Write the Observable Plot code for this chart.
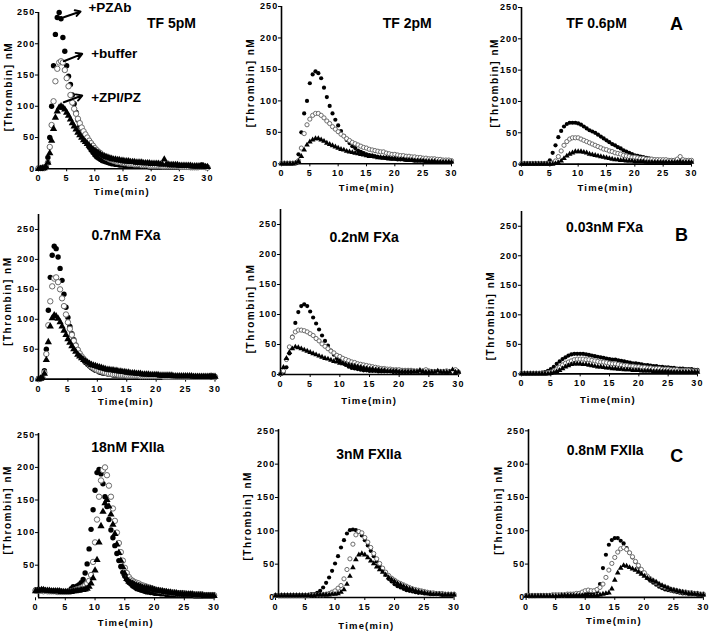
<!DOCTYPE html>
<html><head><meta charset="utf-8">
<script src="https://cdn.jsdelivr.net/npm/d3@7"></script>
<script src="https://cdn.jsdelivr.net/npm/@observablehq/plot@0.6"></script>
<style>
html,body{margin:0;padding:0;background:#fff;}
#chart{position:relative;width:713px;height:632px;overflow:hidden;background:#fff;}
#chart svg{position:absolute;background:none !important;overflow:visible;}
#chart svg text{font-family:"Liberation Sans",Arial,sans-serif;font-weight:bold;}
#warn{position:absolute;left:0;top:0;color:red;font:12px sans-serif;}
</style>
</head><body>
<div id="chart"></div>
<script>
// ---------- shared grids ----------
const T_20S = [0,0.33,0.67,1,1.33,1.67,2,2.33,2.67,3,3.33,3.67,4,4.33,4.67,5,5.33,5.67,6,6.33,6.67,7,7.33,7.67,8,8.33,8.67,9,9.33,9.67,
10,10.33,10.67,11,11.33,11.67,12,12.33,12.67,13,13.33,13.67,14,14.33,14.67,15,15.33,15.67,16,16.33,16.67,17,17.33,17.67,18,18.33,18.67,19,19.33,19.67,
20,20.33,20.67,21,21.33,21.67,22,22.33,22.67,23,23.33,23.67,24,24.33,24.67,25,25.33,25.67,26,26.33,26.67,27,27.33,27.67,28,28.33,28.67,29,29.33,29.67,
30];
const T_30S = [0,0.5,1,1.5,2,2.5,3,3.5,4,4.5,5,5.5,6,6.5,7,7.5,8,8.5,9,9.5,
10,10.5,11,11.5,12,12.5,13,13.5,14,14.5,15,15.5,16,16.5,17,17.5,18,18.5,19,19.5,
20,20.5,21,21.5,22,22.5,23,23.5,24,24.5,25,25.5,26,26.5,27,27.5,28,28.5,29,29.5,
30];
const X_TICKS = [0,5,10,15,20,25,30];
const Y_TICKS = [0,50,100,150,200,250];
const Y_TICKS_NO0 = [50,100,150,200,250];
const SERIES = ["+PZAb","+buffer","+ZPI/PZ"];
const TITLES = ["TF 5pM","TF 2pM","TF 0.6pM","0.7nM FXa","0.2nM FXa","0.03nM FXa","18nM FXIIa","3nM FXIIa","0.8nM FXIIa"];
const ROW_LETTERS = ["A","B","C"];
const Y_LABEL = "[Thrombin] nM";
const X_LABEL = "Time(min)";

// ---------- TF 5pM (20 s grid) ----------
const TF5_PZAB = [1,1,1, 2,4,18, 50,100,165, 215,242,250, 240,210,188, 165,148,135, 118,104,90, 78,68,60, 53,46,40, 35,30,26,
22,19,17, 15,13,12, 11,10,9, 8,8,7, 7,6,6, 6,5,5, 5,5,5, 4,4,4, 4,4,4, 4,4,3,
3,3,3, 3,3,3, 3,3,3, 3,3,3, 3,3,3, 3,3,3, 3,3,3, 2,2,2, 2,2,3, 6,3,2,
2];
const TF5_BUF = [1,1,1, 1,3,10, 35,70,108, 140,160,170, 172,170,158, 145,132,118, 106,96,88, 80,73,66, 60,55,50, 45,41,37,
33,30,27, 25,22,20, 18,17,15, 14,13,12, 11,11,10, 10,9,9, 8,8,8, 7,7,7, 7,6,6, 6,6,5,
5,5,5, 5,5,5, 4,4,4, 4,4,4, 4,4,4, 4,3,3, 3,3,3, 3,3,3, 3,3,3, 3,3,3,
2];
const TF5_ZPI = [0,0,1, 1,3,10, 25,45,64, 82,92,98, 100,98,95, 90,85,79, 73,68,63, 58,54,50, 46,43,40, 37,34,31,
29,27,25, 23,21,20, 19,18,17, 16,15,15, 14,14,13, 13,12,12, 12,11,11, 11,10,10, 10,10,9, 9,9,9,
8,8,8, 8,8,7, 7,15,7, 7,6,6, 6,6,6, 5,5,5, 5,5,5, 5,4,4, 4,4,4, 4,4,3,
3];

// ---------- TF 2pM (30 s grid) ----------
const TF2_PZAB = [1,1, 1,1, 1,2, 15,50, 80,100, 128,142, 147,144, 136,121, 106,92, 80,70,
61,52, 44,38, 33,28, 25,21, 19,17, 15,14, 13,12, 11,10, 10,9, 9,8,
8,7, 7,7, 6,6, 6,5, 5,5, 5,4, 4,4, 4,3, 3,3, 3,3,
3];
const TF2_BUF = [1,1, 1,1, 1,1, 5,25, 48,62, 71,77, 80,80, 77,73, 68,64, 59,55,
51,47, 44,40, 37,34, 32,30, 28,26, 25,23, 22,21, 20,19, 19,17, 16,15,
15,14, 13,13, 12,12, 11,11, 10,10, 9,9, 8,8, 8,7, 7,6, 6,6,
5];
const TF2_ZPI = [0,0, 0,0, 0,1, 4,12, 22,30, 35,38, 40,40, 38,36, 33,31, 29,27,
25,23, 22,20, 19,18, 17,16, 15,14, 13,12, 12,11, 10,10, 9,9, 8,8,
8,7, 7,7, 6,6, 6,5, 5,5, 5,4, 4,4, 4,3, 3,3, 3,3,
3];

// ---------- TF 0.6pM ----------
const TF06_PZAB = [1,1, 1,1, 1,1, 1,1, 1,2, 6,18, 30,43, 53,60, 64,66, 66,66,
65,63, 60,57, 54,52, 50,47, 44,41, 38,35, 32,30, 27,25, 22,20, 18,16,
14,13, 12,11, 10,9, 8,7, 7,6, 6,6, 5,5, 5,5, 5,4, 4,4,
4];
const TF06_BUF = [1,1, 1,1, 1,1, 1,1, 1,1, 1,2, 5,12, 21,30, 36,40, 42,42,
42,40, 38,36, 34,32, 30,28, 26,24, 23,21, 20,18, 17,16, 14,13, 12,11,
11,10, 9,9, 8,8, 8,7, 7,7, 7,7, 6,6, 6,8, 12,7, 6,6,
6];
const TF06_ZPI = [0,0, 0,0, 0,0, 0,0, 0,0, 0,0, 1,2, 5,9, 13,16, 18,20,
20,20, 19,18, 16,15, 14,13, 12,11, 10,9, 8,7, 7,6, 6,5, 5,5,
4,4, 4,4, 3,3, 3,3, 3,3, 3,3, 3,3, 3,3, 3,3, 3,3,
3];

// ---------- 0.7nM FXa (20 s grid) ----------
const FXA07_PZAB = [1,1,3, 14,50,115, 170,207,222, 218,204,185, 165,142,120, 103,88,76, 66,57,49, 42,37,32, 28,25,22, 19,17,15,
14,12,11, 10,10,9, 8,8,7, 7,7,6, 6,6,6, 5,5,5, 5,5,5, 5,4,4, 4,4,4, 4,4,4,
4,4,4, 4,3,3, 3,3,3, 3,3,3, 3,3,3, 3,3,3, 3,3,3, 3,3,3, 3,3,3, 4,6,3,
3];
const FXA07_BUF = [0,1,2, 11,42,90, 130,155,168, 170,162,150, 135,122,108, 95,84,74, 64,56,49, 43,38,34, 30,27,24, 21,19,17,
15,14,13, 12,11,10, 9,9,8, 8,8,7, 7,7,7, 6,6,6, 6,6,6, 6,5,5, 5,5,5, 5,5,5,
5,5,5, 5,4,4, 4,4,4, 4,4,4, 4,4,4, 4,4,4, 4,4,4, 4,4,4, 4,4,4, 4,5,4,
4];
const FXA07_ZPI = [0,1,2, 9,32,62, 88,102,107, 105,101,95, 88,81,74, 67,61,55, 50,46,41, 38,35,32, 30,28,26, 24,23,22,
21,20,19, 18,17,16, 16,15,15, 14,14,13, 13,12,12, 11,11,10, 10,10,9, 9,9,8, 8,8,8, 7,7,7,
7,7,6, 6,6,6, 6,6,6, 5,5,5, 5,5,5, 5,5,5, 5,4,4, 4,4,4, 4,4,4, 4,4,4,
4];

// ---------- 0.2nM FXa ----------
const FXA02_PZAB = [1,3, 12,35, 63,86, 104,114, 117,114, 105,95, 85,75, 65,56, 48,40, 33,27,
23,19, 16,13, 11,10, 9,8, 7,7, 6,6, 6,5, 5,5, 5,5, 4,4,
4,4, 4,4, 4,4, 4,3, 3,3, 3,3, 3,3, 3,3, 3,3, 3,3,
3];
const FXA02_BUF = [1,6, 25,46, 62,71, 74,74, 73,71, 68,65, 60,56, 51,47, 43,39, 36,32,
30,27, 25,23, 21,20, 18,17, 16,15, 14,13, 12,11, 10,10, 9,9, 8,8,
8,7, 7,7, 7,6, 6,6, 6,8, 6,5, 5,5, 5,5, 6,5, 5,8,
4];
const FXA02_ZPI = [1,12, 27,37, 43,46, 45,43, 41,39, 37,35, 33,31, 29,27, 26,24, 22,21,
19,18, 17,16, 15,14, 13,12, 11,10, 9,9, 8,8, 7,7, 6,6, 6,6,
5,5, 5,5, 5,5, 5,7, 5,4, 4,4, 4,6, 4,4, 4,4, 8,4,
4];

// ---------- 0.03nM FXa ----------
const FXA003_PZAB = [1,1, 1,1, 1,1, 1,2, 3,5, 8,12, 17,21, 25,28, 31,33, 34,34,
34,34, 33,32, 31,30, 29,28, 27,26, 25,24, 24,23, 22,21, 20,19, 18,18,
17,16, 15,15, 14,13, 13,12, 12,11, 11,10, 10,9, 9,9, 8,8, 8,7,
7];
const FXA003_BUF = [1,1, 1,1, 1,1, 1,1, 1,2, 3,5, 8,11, 15,18, 20,22, 24,25,
25,25, 24,24, 23,22, 21,20, 20,19, 18,17, 17,16, 15,14, 14,13, 13,12,
12,11, 11,10, 10,9, 9,9, 8,8, 8,7, 7,7, 6,6, 6,6, 5,5,
5];
const FXA003_ZPI = [0,0, 0,0, 0,0, 0,0, 0,0, 1,2, 4,6, 9,12, 14,16, 17,17,
17,16, 16,15, 14,13, 12,12, 11,10, 10,9, 9,8, 8,7, 7,7, 6,6,
6,5, 5,5, 5,4, 4,4, 4,4, 4,3, 3,3, 3,3, 3,3, 3,3,
3];

// ---------- 18nM FXIIa (20 s grid) ----------
const FXIIA18_PZAB = [12,12,11, 12,12,11, 11,11,11, 10,10,10, 10,10,9, 9,9,10, 14,17,16, 18,20,23, 28,38,52, 75,105,135,
165,192,197, 190,175,155, 140,120,104, 92,80,68, 57,48,39, 33,28,24, 21,18,16, 14,13,12, 11,10,9, 9,8,8,
7,7,7, 6,6,6, 5,5,5, 5,5,4, 4,4,4, 4,4,4, 4,4,3, 3,3,3, 3,3,3, 3,3,3,
3];
const FXIIA18_BUF = [11,11,11, 11,10,11, 10,10,10, 10,10,9, 9,9,9, 9,9,9, 10,11,12, 13,14,15, 17,19,22, 26,35,55,
85,120,155, 180,196,200, 188,172,155, 137,118,100, 84,70,57, 46,38,32, 28,26,24, 23,22,20, 19,18,17, 16,15,14,
13,12,11, 11,10,10, 9,9,8, 8,8,7, 7,7,7, 7,6,6, 6,6,5, 5,5,5, 5,4,4, 4,4,4,
4];
const FXIIA18_ZPI = [10,11,11, 12,12,11, 11,11,10, 10,10,10, 10,9,9, 9,9,9, 9,10,10, 11,11,12, 12,13,14, 17,22,30,
42,58,85, 110,132,145, 150,140,128, 112,98,82, 69,57,47, 37,29,25, 23,22,20, 19,18,17, 16,15,15, 14,14,13,
12,11,11, 10,10,9, 9,8,8, 7,7,7, 6,6,6, 5,5,5, 5,5,4, 4,4,4, 4,3,3, 3,3,3,
3];

// ---------- 3nM FXIIa ----------
const FXIIA3_PZAB = [4,4, 4,4, 4,4, 4,4, 4,4, 4,4, 5,5, 7,10, 15,22, 30,40,
51,62, 75,86, 96,101, 102,101, 98,93, 86,78, 70,62, 54,47, 40,34, 28,24,
20,17, 15,13, 11,10, 9,8, 7,7, 6,6, 5,5, 5,5, 4,4, 4,4,
4];
const FXIIA3_BUF = [3,3, 3,3, 3,3, 3,3, 3,3, 3,3, 4,4, 4,4, 4,5, 6,8,
10,14, 18,28, 42,58, 80,94, 99,97, 90,83, 75,66, 58,51, 44,38, 33,29,
26,23, 21,19, 17,15, 13,12, 11,10, 9,8, 7,7, 6,6, 6,5, 5,5,
5];
const FXIIA3_ZPI = [3,3, 3,3, 3,3, 3,3, 3,3, 3,3, 3,3, 4,4, 4,4, 4,5,
5,6, 8,12, 20,32, 45,57, 64,66, 64,60, 55,51, 46,42, 38,34, 30,27,
24,21, 19,17, 15,13, 12,10, 9,8, 7,6, 6,5, 5,5, 4,4, 4,4,
4];

// ---------- 0.8nM FXIIa ----------
const FXIIA08_PZAB = [2,2, 2,2, 3,3, 3,3, 3,3, 4,4, 4,4, 4,5, 5,5, 6,6,
6,7, 7,8, 9,20, 44,64, 79,86, 89,89, 85,81, 74,67, 60,53, 46,40,
34,29, 25,22, 19,16, 14,12, 11,10, 9,8, 7,6, 6,5, 5,5, 4,4,
4];
const FXIIA08_BUF = [3,3, 3,3, 3,3, 3,3, 3,4, 4,4, 4,4, 5,5, 5,6, 6,8,
10,11, 10,10, 12,15, 20,30, 41,51, 60,68, 73,75, 72,67, 61,54, 48,42,
37,32, 28,25, 22,19, 17,15, 14,12, 11,10, 9,8, 8,7, 7,6, 6,5,
5];
const FXIIA08_ZPI = [2,2, 2,2, 2,2, 2,2, 2,2, 2,2, 3,3, 3,3, 3,3, 3,3,
3,3, 3,3, 3,4, 5,6, 7,13, 26,37, 44,48, 47,45, 43,41, 38,35,
32,29, 27,25, 23,20, 18,16, 14,12, 11,10, 9,8, 7,6, 6,5, 5,4,
4];

// ---------- layout (page pixel geometry of each panel) ----------
const PANELS = [
  {title: TITLES[0], time: T_20S, data: [TF5_PZAB, TF5_BUF, TF5_ZPI], r: 2.7,
   x0: 38, x30: 207, y0: 168.3, y250: 12, yMax: 250, axisAt: 0, yTicks: Y_TICKS,
   titleAt: [171, 22.6], yLabAt: [8, 86], xLabAt: [121.3, 191],
   notes: [["+PZAb", 88, 7], ["+buffer", 90.7, 53], ["+ZPI/PZ", 90.7, 96.7]],
   arrows: [[4.49, 242.5, 7.46, 251.6], [4.49, 172.1, 7.76, 183.9], [4.49, 106.5, 7.76, 117.2]]},
  {title: TITLES[1], time: T_30S, data: [TF2_PZAB, TF2_BUF, TF2_ZPI], r: 2.1,
   x0: 280.5, x30: 450.5, y0: 163.3, y250: 6, yMax: 250, axisAt: 0, yTicks: Y_TICKS,
   titleAt: [406.3, 23.4], yLabAt: [250, 82], xLabAt: [365.8, 187.7]},
  {title: TITLES[2], time: T_30S, data: [TF06_PZAB, TF06_BUF, TF06_ZPI], r: 2.1,
   x0: 521, x30: 691, y0: 163.3, y250: 6.7, yMax: 250, axisAt: 0, yTicks: Y_TICKS,
   titleAt: [596, 22.4], letter: ROW_LETTERS[0], letterAt: [676, 23], yLabAt: [494, 82], xLabAt: [605, 186.7]},
  {title: TITLES[3], time: T_20S, data: [FXA07_PZAB, FXA07_BUF, FXA07_ZPI], r: 2.7,
   x0: 37.5, x30: 214, y0: 379, y250: 229.3, yMax: 275, axisAt: 0, yTicks: Y_TICKS,
   titleAt: [125, 235.4], yLabAt: [7, 301], xLabAt: [125, 401.7]},
  {title: TITLES[4], time: T_30S, data: [FXA02_PZAB, FXA02_BUF, FXA02_ZPI], r: 2.1,
   x0: 280, x30: 458, y0: 374, y250: 224, yMax: 275, axisAt: 0, yTicks: Y_TICKS,
   titleAt: [363.7, 236.8], yLabAt: [250.7, 308], xLabAt: [368.7, 400]},
  {title: TITLES[5], time: T_30S, data: [FXA003_PZAB, FXA003_BUF, FXA003_ZPI], r: 2.1,
   x0: 521, x30: 697, y0: 373.3, y250: 225.7, yMax: 275, axisAt: 0, yTicks: Y_TICKS,
   titleAt: [604, 227.4], letter: ROW_LETTERS[1], letterAt: [681, 234.4], yLabAt: [490.7, 315], xLabAt: [607.5, 399.3]},
  {title: TITLES[6], time: T_20S, data: [FXIIA18_PZAB, FXIIA18_BUF, FXIIA18_ZPI], r: 2.7,
   x0: 34.7, x30: 213.3, y0: 597, y250: 434, yMax: 252, axisAt: 0.5, yTicks: Y_TICKS_NO0,
   titleAt: [127, 446.8], yLabAt: [7, 509], xLabAt: [125, 621.7]},
  {title: TITLES[7], time: T_30S, data: [FXIIA3_PZAB, FXIIA3_BUF, FXIIA3_ZPI], r: 2.1,
   x0: 274.7, x30: 453.3, y0: 596.7, y250: 430, yMax: 252, axisAt: 0.5, yTicks: Y_TICKS,
   titleAt: [368, 454.1], yLabAt: [247.3, 515], xLabAt: [365.5, 625]},
  {title: TITLES[8], time: T_30S, data: [FXIIA08_PZAB, FXIIA08_BUF, FXIIA08_ZPI], r: 2.1,
   x0: 526, x30: 703.3, y0: 597.3, y250: 430.7, yMax: 252, axisAt: 0.4, yTicks: Y_TICKS,
   titleAt: [605, 450.8], letter: ROW_LETTERS[2], letterAt: [676.7, 455.7], yLabAt: [499, 510], xLabAt: [613.8, 621]}
];

const FONT = '"Liberation Sans", Arial, sans-serif';
const chart = document.getElementById("chart");
const warnings = [];

function drawPanel(p) {
  const T = p.time;
  p.data.forEach((s, k) => { if (s.length !== T.length) warnings.push(p.title + " " + SERIES[k] + ": " + s.length + "/" + T.length); });
  const pxMin = (p.x30 - p.x0) / 30;
  const pxUnit = (p.y0 - p.y250) / 250;
  const yTopPx = p.y0 - p.yMax * pxUnit;
  const axisPx = p.x0 + p.axisAt * pxMin;
  const mL = 50, mR = 16, mT = 30, mB = 44;
  const width = p.x30 - axisPx + mL + mR;
  const height = p.y0 - yTopPx + mT + mB;
  const left = axisPx - mL, top = yTopPx - mT;
  const at = (s, px, py, o) => Plot.text([s], {text: d => d, frameAnchor: "top-left",
    dx: px - axisPx, dy: py - yTopPx, lineAnchor: "middle", fill: "#000", fontWeight: "bold", ...o});
  const dot = (vals, o) => Plot.dot(vals, {x: (d, i) => T[i], y: d => d, r: p.r, ...o});
  const marks = [
    Plot.ruleY([0], {x1: p.axisAt, x2: 30, stroke: "#000", strokeWidth: 1.6}),
    Plot.ruleX([p.axisAt], {y1: 0, y2: p.yMax, stroke: "#000", strokeWidth: 1.6}),
    dot(p.data[0], {fill: "#000"}),
    dot(p.data[1], {fill: "#fff", stroke: "#6a6a6a", strokeWidth: 1}),
    dot(p.data[2], {symbol: "triangle", fill: "#000"}),
    at(p.title, p.titleAt[0], p.titleAt[1], {fontSize: 14, textAnchor: "middle"}),
    at(Y_LABEL, p.yLabAt[0], p.yLabAt[1], {fontSize: 10, rotate: -90, textAnchor: "middle"}),
    at(X_LABEL, p.xLabAt[0], p.xLabAt[1], {fontSize: 9.5, textAnchor: "middle"})
  ];
  if (p.letter) marks.push(at(p.letter, p.letterAt[0], p.letterAt[1], {fontSize: 18, textAnchor: "middle"}));
  if (p.notes) p.notes.forEach(n => marks.push(at(n[0], n[1], n[2], {fontSize: 13.5, textAnchor: "start"})));
  if (p.arrows) marks.push(Plot.arrow(p.arrows, {x1: d => d[0], y1: d => d[1], x2: d => d[2], y2: d => d[3],
    stroke: "#000", strokeWidth: 2, headLength: 7}));
  const svg = Plot.plot({
    width, height, marginLeft: mL, marginRight: mR, marginTop: mT, marginBottom: mB,
    style: {fontFamily: FONT, fontSize: "9px", fontWeight: "bold", color: "#000", background: "none", overflow: "visible"},
    x: {domain: [0, 30], ticks: X_TICKS, tickSize: 3, tickPadding: 3, tickFormat: d => String(d), label: null,
        insetLeft: -(axisPx - p.x0)},
    y: {domain: [0, p.yMax], ticks: p.yTicks, tickSize: 3, tickPadding: 0, tickFormat: d => String(d), label: null},
    marks
  });
  svg.style.position = "absolute";
  svg.style.left = left + "px";
  svg.style.top = top + "px";
  svg.style.background = "none";
  // letter-spaced bold typography for tick labels and axis titles
  d3.select(svg).selectAll("text").each(function () {
    const s = this.textContent;
    if (/^\d+$/.test(s)) {
      this.style.letterSpacing = "1.2px";
      this.style.fontSize = "9px";
      this.style.fontWeight = "bold";
      this.style.fontFamily = FONT;
    } else if (s === Y_LABEL) {
      this.style.letterSpacing = "1.5px";
    } else if (s === X_LABEL) {
      this.style.letterSpacing = "1.2px";
    }
  });
  chart.appendChild(svg);
}

PANELS.forEach(drawPanel);
if (warnings.length) {
  const w = document.createElement("div");
  w.id = "warn";
  w.textContent = warnings.join(" | ");
  chart.appendChild(w);
}
</script>
</body></html>
